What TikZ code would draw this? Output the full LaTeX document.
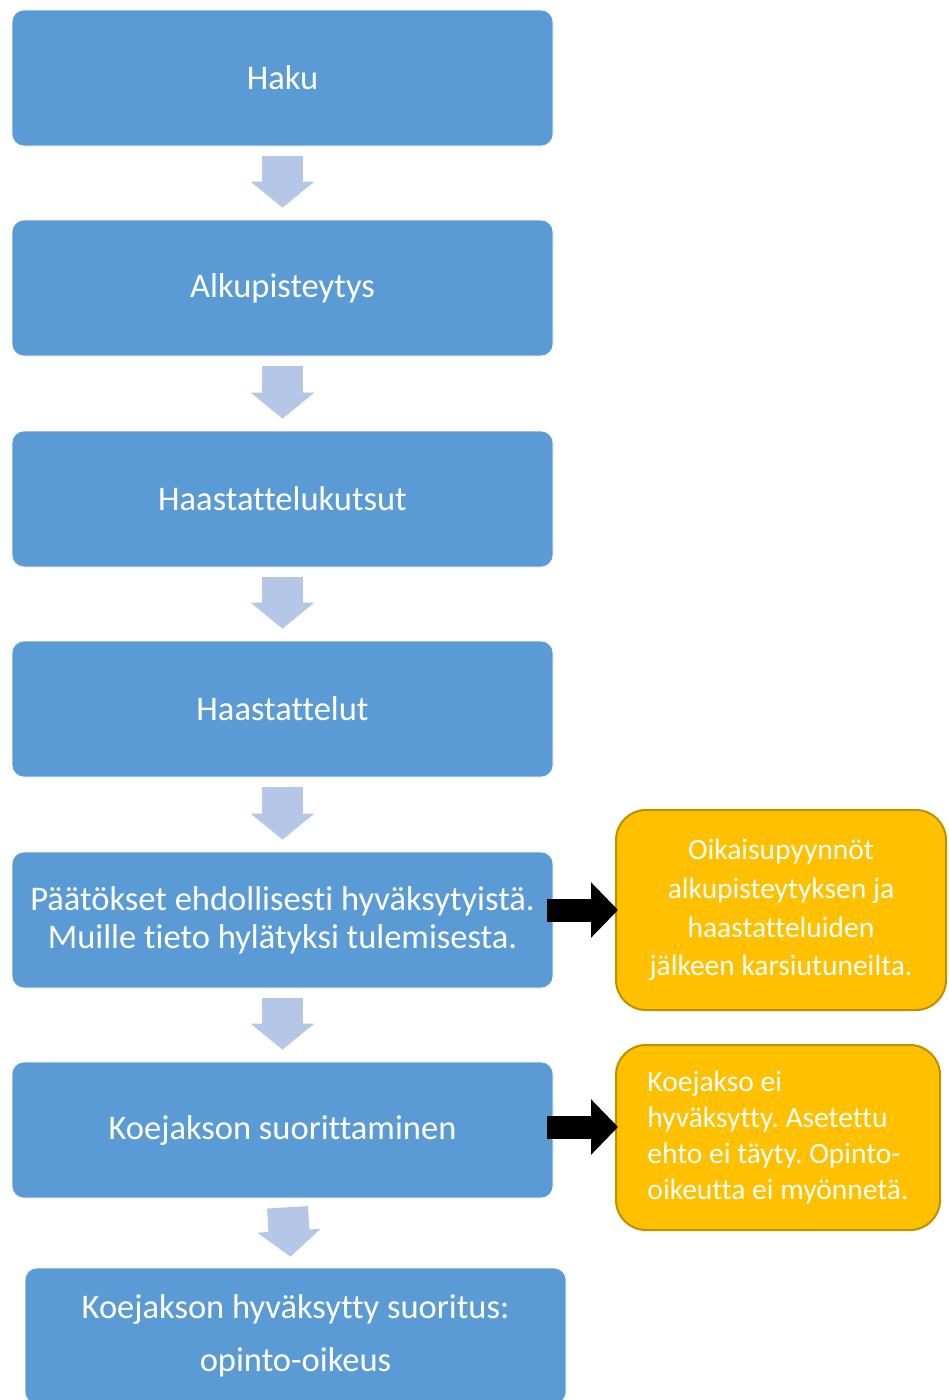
\documentclass[tikz,border=0pt]{standalone}
\usepackage{fontspec}
\setmainfont{Carlito}[Ligatures=NoCommon]
\usetikzlibrary{arrows.meta}
\definecolor{stepblue}{HTML}{5B9BD5}
\definecolor{arrowblue}{HTML}{B4C7E7}
\definecolor{notegold}{HTML}{FFC000}
\definecolor{noteedge}{HTML}{BF9000}
\frenchspacing
\tikzset{
  stepbox/.style={fill=stepblue, draw=white, line width=0.6pt, rounded corners=12pt,
    minimum width=541pt, minimum height=136pt, inner sep=0pt, text=white, align=center,
    font=\fontsize{34.5}{38}\selectfont},
  notebox/.style={fill=notegold, draw=noteedge, line width=2pt, rounded corners=30pt,
    inner sep=0pt, text=white},
  downarrow/.style={draw=arrowblue, line width=41pt, -{Triangle[width=62pt,length=26pt]}},
  sidearrow/.style={draw=black, line width=23pt, -{Triangle[width=54pt,length=27pt]}},
}
\begin{document}
\begin{tikzpicture}[x=1pt, y=-1pt]
  \useasboundingbox[fill=white] (0,0) rectangle (949,1400);
  % main steps
  \node[stepbox] (haku) at (282.5,78) {Haku};
  \node[stepbox] (alku) at (282.5,288) {Alkupisteytys};
  \node[stepbox] (kutsu) at (282.5,499) {Haastattelukutsut};
  \node[stepbox] (haast) at (282.5,709) {Haastattelut};
  \node[stepbox] (paat) at (282.5,920) {Päätökset ehdollisesti hyväksytyistä.\\Muille tieto hylätyksi tulemisesta.};
  \node[stepbox] (koe) at (282.5,1130) {Koejakson suorittaminen};
  \node[stepbox, font=\fontsize{34.5}{53}\selectfont] (fin) at (295.5,1336) {Koejakson hyväksytty suoritus:\\opinto-oikeus};
  % side notes
  \node[notebox, minimum width=330pt, minimum height=200pt, align=center,
    font=\fontsize{29.5}{38.7}\selectfont] (oik) at (781,910)
    {Oikaisupyynnöt\\alkupisteytyksen ja\\haastatteluiden\\jälkeen karsiutuneilta.};
  \node[notebox, minimum width=324pt, minimum height=185pt, align=left,
    font=\fontsize{29.5}{36}\selectfont] (ei) at (778,1137.5)
    {Koejakso ei\\hyväksytty. Asetettu\\ehto ei täyty. Opinto-\\oikeutta ei myönnetä.};
  % arrows down
  \draw[downarrow] ([yshift=-10pt]haku.south) -- ([yshift=12pt]alku.north);
  \draw[downarrow] ([yshift=-10pt]alku.south) -- ([yshift=12pt]kutsu.north);
  \draw[downarrow] ([yshift=-10pt]kutsu.south) -- ([yshift=12pt]haast.north);
  \draw[downarrow] ([yshift=-10pt]haast.south) -- ([yshift=12pt]paat.north);
  \draw[downarrow] ([yshift=-10pt]paat.south) -- ([yshift=12pt]koe.north);
  \draw[downarrow] ([xshift=5pt,yshift=-9pt]koe.south) -- ([xshift=-5pt,yshift=11pt]fin.north);
  % arrows to the notes
  \draw[sidearrow] ([xshift=-6pt]paat.east |- oik.west) -- ([xshift=3pt]oik.west);
  \draw[sidearrow] ([xshift=-6pt,yshift=3pt]koe.east) -- ([xshift=3pt,yshift=3pt]koe.east -| ei.west);
\end{tikzpicture}
\end{document}
